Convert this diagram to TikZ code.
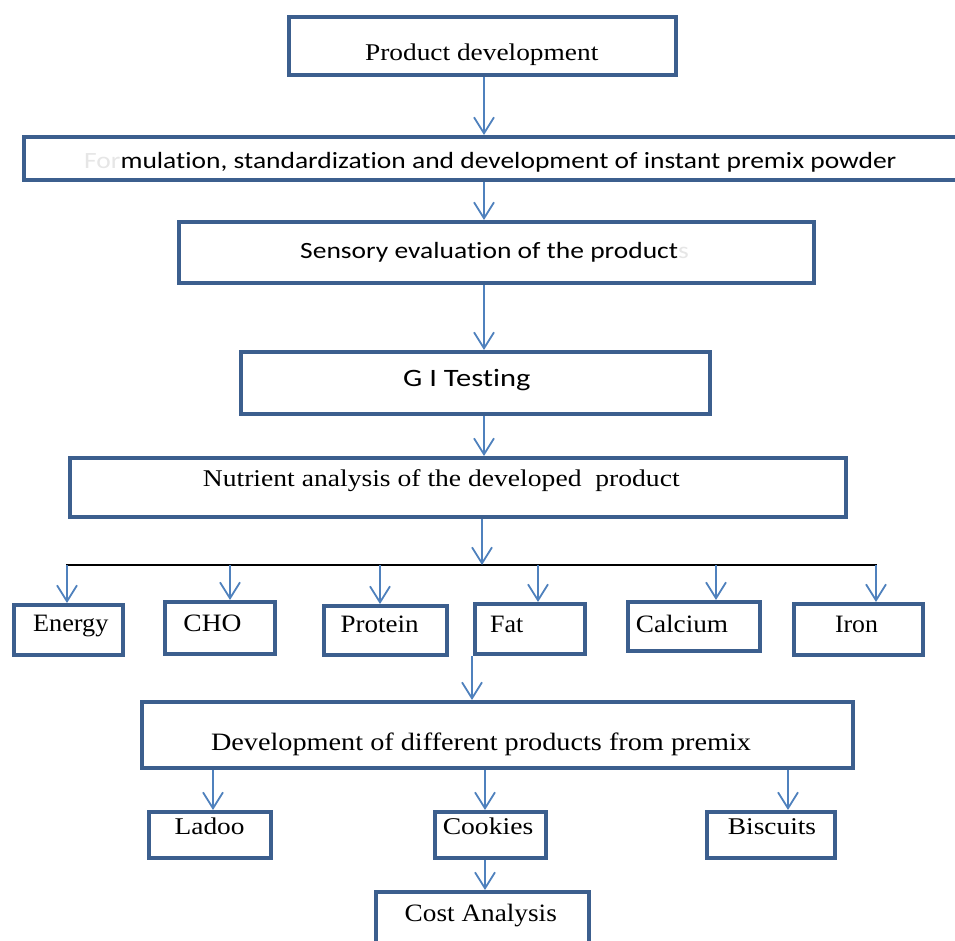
\documentclass[tikz,border=0pt]{standalone}
\usepackage{fontspec}
\usepackage{graphicx}
\setmainfont{Liberation Serif}
\newfontfamily\sansf[Ligatures=NoCommon]{Carlito}
\usetikzlibrary{arrows.meta}
\definecolor{boxblue}{HTML}{3C5F8E}
\definecolor{arrblue}{HTML}{4F81BD}
\definecolor{fadegray}{HTML}{E6E6E6}
% serif text: size, horizontal stretch
\newcommand{\sertx}[3]{\fontsize{#1}{#1}\selectfont\scalebox{#2}[1]{#3}}
\newcommand{\santx}[3]{\sansf\fontsize{#1}{#1}\selectfont\scalebox{#2}[1]{#3}}
\tikzset{
  box/.style={draw=boxblue, line width=4pt, fill=white, inner sep=0pt, rectangle},
  lbl/.style={inner sep=0pt, text=black, anchor=base},
  lblw/.style={inner sep=0pt, text=black, anchor=base west},
  arr/.style={draw=arrblue, line width=1.8pt, -{Straight Barb[length=16pt,width=20pt,line width=1.8pt]}},
  bus/.style={draw=black, line width=2pt}
}
\begin{document}
\begin{tikzpicture}[x=1pt,y=-1pt]
\useasboundingbox (0,0) rectangle (955,940);
% boxes
\node[box, minimum width=387, minimum height=58] (b1) at (482.5,46) {};
\node[box, minimum width=934, minimum height=43] (b2) at (491,158.5) {};
\node[box, minimum width=635, minimum height=61] (b3) at (496.5,252.5) {};
\node[box, minimum width=469, minimum height=62] (b4) at (475.5,383) {};
\node[box, minimum width=776, minimum height=59] (b5) at (458,487.5) {};
\node[box, minimum width=109, minimum height=50] (en) at (68.5,630) {};
\node[box, minimum width=110, minimum height=52] (cho) at (220,628) {};
\node[box, minimum width=123, minimum height=49] (pr) at (385.5,630.5) {};
\node[box, minimum width=110, minimum height=50] (fat) at (530,629) {};
\node[box, minimum width=132, minimum height=49] (ca) at (694,626.5) {};
\node[box, minimum width=129, minimum height=51] (fe) at (858.5,629.5) {};
\node[box, minimum width=711, minimum height=66] (dev) at (497.5,735) {};
\node[box, minimum width=122, minimum height=46] (la) at (210,835) {};
\node[box, minimum width=111, minimum height=46] (co) at (490.5,835) {};
\node[box, minimum width=128, minimum height=46] (bi) at (771,835) {};
\node[box, minimum width=213, minimum height=56] (cost) at (482.5,920) {};
% texts
\node[lbl] (t1) at (481.7,60.7) {\sertx{24}{1.14}{Product development}};
\node[lblw] (t2) at (84,168.3) {\santx{23.3}{1.18}{\textcolor{fadegray}{For}mulation, standardization and development of instant premix powder}};
\node[lblw] (t3) at (300,258.3) {\santx{23.3}{1.18}{Sensory evaluation of the product\textcolor{fadegray}{s}}};
\node[lblw] (t4) at (403,386) {\santx{25}{1.22}{G I Testing}};
\node[lblw] (t5) at (202.7,486) {\sertx{24}{1.15}{Nutrient analysis of the developed\ \ product}};
\node[lbl] (ten) at (70.8,631.7) {\sertx{25}{1.05}{Energy}};
\node[lbl] (tcho) at (212.5,631.7) {\sertx{25}{1.1}{CHO}};
\node[lbl] (tpr) at (379.7,632.3) {\sertx{25}{1.08}{Protein}};
\node[lblw] (tfat) at (490,632.3) {\sertx{25}{1.04}{Fat}};
\node[lbl] (tca) at (682,632.3) {\sertx{25}{1.09}{Calcium}};
\node[lbl] (tfe) at (856.5,632.3) {\sertx{25}{1.03}{Iron}};
\node[lbl] (tdev) at (481,750.7) {\sertx{25}{1.13}{Development of different products from premix}};
\node[lbl] (tla) at (209.6,834.7) {\sertx{24}{1.14}{Ladoo}};
\node[lbl] (tco) at (488,834.7) {\sertx{24}{1.15}{Cookies}};
\node[lbl] (tbi) at (772,834.7) {\sertx{24}{1.14}{Biscuits}};
\node[lbl] (tcost) at (480.8,921.3) {\sertx{25}{1.09}{Cost Analysis}};
% spine coordinates
\coordinate (sp) at (484,0);
\coordinate (sp2) at (482,0);
\coordinate (busl) at (66,565);
\coordinate (busr) at (877,565);
\coordinate (k1) at (67,565);
\coordinate (k2) at (230,565);
\coordinate (k3) at (380,565);
\coordinate (k4) at (538,565);
\coordinate (k5) at (716,565);
\coordinate (k6) at (876,565);
\coordinate (fx) at (472,0);
\coordinate (d1) at (213,0);
\coordinate (d2) at (485,0);
\coordinate (d3) at (788,0);
% arrows
\draw[arr] (sp |- b1.south) -- (sp |- b2.north);
\draw[arr] (sp |- b2.south) -- (sp |- b3.north);
\draw[arr] (sp |- b3.south) -- (sp |- b4.north);
\draw[arr] (sp |- b4.south) -- (sp |- b5.north);
\draw[bus] (busl) -- (busr);
\draw[arr] (sp2 |- b5.south) -- (sp2 |- busl);
\draw[arr] (k1) -- (k1 |- en.north);
\draw[arr] (k2) -- (k2 |- cho.north);
\draw[arr] (k3) -- (k3 |- pr.north);
\draw[arr] (k4) -- (k4 |- fat.north);
\draw[arr] (k5) -- (k5 |- ca.north);
\draw[arr] (k6) -- (k6 |- fe.north);
\draw[arr] (fx |- fat.south) -- (fx |- dev.north);
\draw[arr] (d1 |- dev.south) -- (d1 |- la.north);
\draw[arr] (d2 |- dev.south) -- (d2 |- co.north);
\draw[arr] (d3 |- dev.south) -- (d3 |- bi.north);
\draw[arr] (d2 |- co.south) -- (d2 |- cost.north);
\end{tikzpicture}
\end{document}
